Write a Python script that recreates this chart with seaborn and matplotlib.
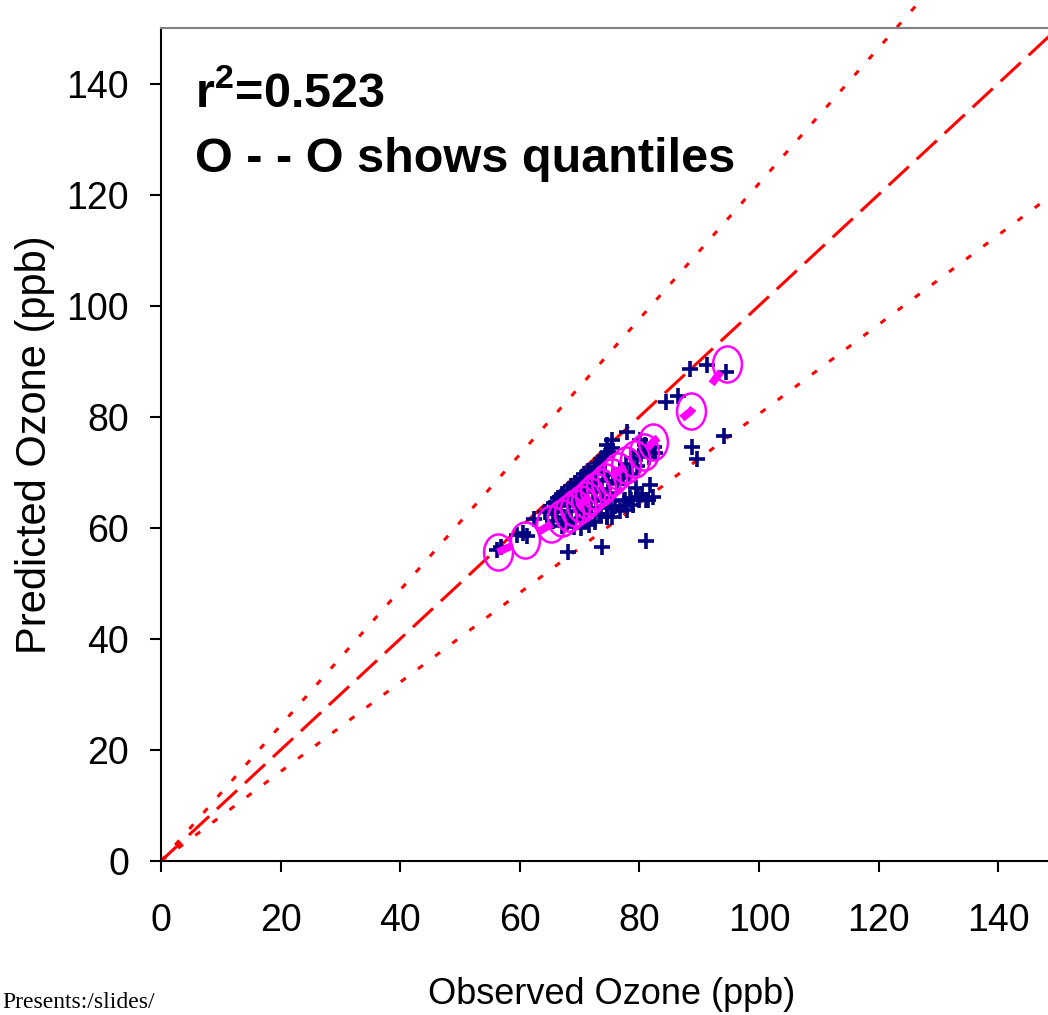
#!/usr/bin/env python3

import numpy as np
import matplotlib
matplotlib.use("Agg")
import matplotlib.pyplot as plt
from matplotlib import font_manager
from matplotlib.path import Path
from matplotlib.transforms import Affine2D
import pandas
import seaborn as sns

# observed / predicted ozone pairs (ppb)
obs = [56.2, 56.9, 59.5, 60.5, 61.2, 62.4, 68.1, 73.7, 81.1, 67.9,
       71.6, 74.6, 75.4, 77.9, 78.9, 79.9, 81.1, 81.8, 82.3, 77.6,
       78.4, 79.4, 80.1, 80.9, 77.9, 75.4, 74.6, 82.6, 84.4, 86.5,
       88.5, 91.3, 94.5, 94.1, 88.8, 89.6,
       65.5, 66.2, 67.0, 67.4, 68.0, 68.6, 69.1, 69.5, 70.0, 70.4,
       70.9, 71.3, 71.9, 72.3, 72.8, 73.2, 73.8, 74.1, 74.7, 75.1,
       75.6, 76.2, 76.7, 77.3, 77.8, 78.4, 79.0, 79.6, 80.3, 81.0,
       81.6, 82.4,
       70.2, 71.0, 72.5, 73.5, 74.5, 75.2, 76.0, 76.8, 77.5, 78.6,
       79.8, 80.5, 81.4,
       65.0, 65.8, 66.4, 67.0, 67.5, 68.1, 68.6, 69.2, 69.7, 70.3,
       70.8, 71.4, 71.9, 72.5, 73.0, 73.6, 74.2, 74.8, 75.5, 68.3,
       69.4, 70.6, 71.6, 72.8, 73.9, 64.2, 66.9, 69.0, 71.2, 73.3]
pred = [56.0, 56.6, 58.7, 59.1, 58.6, 61.6, 55.7, 56.6, 57.7, 61.1,
        60.5, 62.0, 62.0, 63.2, 64.1, 65.0, 65.0, 67.7, 65.6, 65.0,
        65.4, 67.2, 75.9, 75.0, 77.3, 75.9, 75.0, 73.5, 82.7, 83.8,
        88.6, 89.4, 88.1, 76.6, 74.6, 72.4,
        61.2, 62.8, 60.3, 62.0, 63.9, 61.5, 60.2, 63.0, 64.6, 61.8,
        62.9, 65.2, 63.6, 66.4, 64.8, 62.4, 67.0, 65.3, 68.4, 66.2,
        69.5, 67.8, 70.6, 68.9, 71.4, 69.7, 72.5, 71.2, 73.3, 74.0,
        72.8, 74.6,
        60.0, 61.2, 61.0, 62.5, 62.1, 63.6, 64.0, 63.0, 64.8, 65.0,
        65.5, 66.1, 65.0,
        63.6, 64.5, 65.3, 66.0, 65.4, 66.8, 67.5, 68.1, 67.3, 69.0,
        69.6, 70.2, 69.5, 71.0, 71.6, 72.3, 72.9, 73.6, 74.3, 64.6,
        65.6, 66.8, 67.7, 68.6, 69.7, 62.9, 64.9, 66.2, 68.3, 70.9]

# quantiles (observed vs predicted)
obs_q = [56.3, 60.8, 65.2, 67.0, 68.3, 69.3, 70.2, 71.0, 71.8, 72.6,
         73.5, 74.4, 75.4, 76.5, 77.8, 79.3, 80.8, 82.2, 88.6, 94.6]
pred_q = [55.6, 57.8, 60.6, 61.8, 62.7, 63.5, 64.2, 65.0, 65.8, 66.6,
          67.4, 68.3, 69.2, 70.2, 71.3, 72.4, 73.6, 75.4, 81.0, 89.5]

# reference lines through origin: 1:1 and the two bands
ref_x = [0, 160]
slope_1to1 = 1.0
slope_hi = 1.22
slope_lo = 0.805

ticks = [0, 20, 40, 60, 80, 100, 120, 140]

sns.set_style("ticks")
plt.rcParams['font.family'] = ['Liberation Sans', 'DejaVu Sans']
plt.rcParams['text.color'] = 'black'
plt.rcParams['xtick.color'] = 'black'
plt.rcParams['ytick.color'] = 'black'
plt.rcParams['axes.labelcolor'] = 'black'

names = {f.name for f in font_manager.fontManager.ttflist}
if 'Liberation Sans Narrow' in names:
    title_font = 'Liberation Sans Narrow'
    title_size = 42
else:
    title_font = 'Liberation Sans'
    title_size = 35
plt.rcParams['mathtext.fontset'] = 'custom'
plt.rcParams['mathtext.rm'] = title_font + ':bold'
plt.rcParams['mathtext.bf'] = title_font + ':bold'

fig = plt.figure(figsize=(10.48, 10.15), dpi=100)
ax = fig.add_axes([161/1048, 154/1015, 897/1048, 833/1015])

df = pandas.DataFrame({"obs": obs, "pred": pred})
dq = pandas.DataFrame({"obs": obs_q, "pred": pred_q})

# reference lines (not clipped, they run past the top of the frame)
for slope, dash in [(slope_hi, (2, 5)), (slope_lo, (2, 5)), (slope_1to1, (9, 3.5))]:
    ax.plot(ref_x, [v * slope for v in ref_x], color='red', lw=2.2,
            dashes=dash, zorder=2, clip_on=False)

sns.scatterplot(data=df, x="obs", y="pred", marker='+', color='#000080',
                s=120, linewidth=2.6, ax=ax, zorder=3)

sns.lineplot(data=dq, x="obs", y="pred", sort=False, estimator=None,
             color='#FF00FF', lw=5.5, dashes=False, ax=ax, zorder=4)
ax.lines[-1].set_dashes((2, 4))

ellipse = Path.unit_circle().transformed(Affine2D().scale(0.8, 1.0))
ax.plot(obs_q, pred_q, linestyle='none', marker=ellipse, markersize=26,
        markerfacecolor='none', markeredgecolor='#FF00FF',
        markeredgewidth=1.8, zorder=5)

ax.set_xlim(0, 150)
ax.set_ylim(0, 150)
ax.set_xticks(ticks)
ax.set_yticks(ticks)
ax.tick_params(axis='both', labelsize=27, length=8, width=1.5,
               color='black', labelcolor='black', direction='out')
ax.tick_params(axis='x', pad=22)
ax.tick_params(axis='y', pad=15)
ax.set_xlabel('')
ax.set_ylabel('')

for side in ['left', 'bottom']:
    ax.spines[side].set_color('black')
    ax.spines[side].set_linewidth(1.5)
ax.spines['top'].set_visible(True)
ax.spines['top'].set_color('#808080')
ax.spines['top'].set_linewidth(1.5)
ax.spines['right'].set_visible(False)

fig.text(35/1048, 1 - 445/1015, 'Predicted Ozone (ppb)', rotation=90,
         ha='center', va='center', fontsize=30)
fig.text(612/1048, 1 - 995/1015, 'Observed Ozone (ppb)',
         ha='center', va='center', fontsize=26)

fig.text(195/1048, 1 - 108/1015, r'r$^{2}$=0.523', ha='left',
         va='baseline', fontsize=title_size, fontweight='bold',
         family=title_font)
fig.text(195/1048, 1 - 172/1015, 'O - - O shows quantiles', ha='left',
         va='baseline', fontsize=title_size, fontweight='bold',
         family=title_font)

fig.text(2/1048, 1 - 1008/1015, 'Presents:/slides/', ha='left',
         va='baseline', fontsize=17, family=['Liberation Serif', 'DejaVu Serif'])

fig.savefig("out.png", dpi=100)
